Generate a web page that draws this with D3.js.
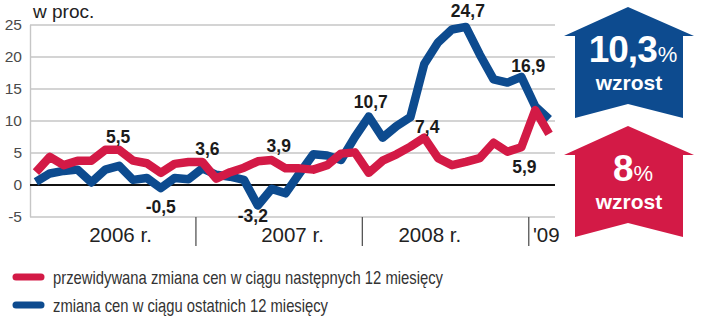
<!DOCTYPE html>
<html>
<head>
<meta charset="utf-8">
<script src="https://cdn.jsdelivr.net/npm/d3@7"></script>
<style>
  html, body { margin: 0; padding: 0; background: #fff; }
  svg { display: block; }
  text { font-family: "Liberation Sans", Arial, sans-serif; }
</style>
</head>
<body>
<svg id="chart" width="720" height="322"></svg>
<script>
// Monthly readings, January 2006 – February 2009
const months = d3.range(38).map(i => new Date(2006, i, 1));

// expected price change over the next 12 months (%)
const expected = [
  2.0, 4.4, 3.1, 3.8, 3.8, 5.5, 5.5, 3.8, 3.4, 1.9, 3.3, 3.6,
  3.6, 1.0, 2.0, 2.7, 3.7, 3.9, 2.6, 2.6, 2.4, 3.1, 4.9, 5.1,
  1.9, 3.8, 4.8, 6.0, 7.4, 4.2, 3.1, 3.6, 4.2, 6.6, 5.2, 5.9,
  11.7, 8.0
];

// perceived price change over the past 12 months (%)
const observed = [
  0.5, 1.8, 2.2, 2.4, 0.4, 2.4, 3.0, 0.8, 1.1, -0.5, 1.1, 0.9,
  2.6, 1.6, 1.3, 0.8, -3.2, -0.6, -1.3, 1.8, 4.8, 4.6, 3.9, 7.5,
  10.7, 7.4, 9.2, 10.6, 18.9, 22.3, 24.3, 24.7, 20.4, 16.5, 16.0, 16.9,
  12.3, 10.3
];

const yTicks = [25, 20, 15, 10, 5, 0, -5];
const yearLabels = ["2006 r.", "2007 r.", "2008 r.", "'09"];
const yearStarts = [0, 12, 24, 36];

const seriesNames = [
  "przewidywana zmiana cen w ciągu następnych 12 miesięcy",
  "zmiana cen w ciągu ostatnich 12 miesięcy"
];

// points carrying a value label: [series, month index]
const labelled = [
  ["expected", 6], ["observed", 9], ["expected", 12], ["observed", 16],
  ["expected", 17], ["observed", 24], ["expected", 28], ["observed", 31],
  ["observed", 35], ["expected", 35]
];

// headline figures in the arrows
const headline = { observed: "10,3", expected: "8" };

// ---- drawing ----
const RED = "#d31a46";
const BLUE = "#0d4b8f";

const svg = d3.select("#chart");
// Polish decimal comma, plain hyphen for negatives
const fmt = v => v.toFixed(1).replace(".", ",");

const x = d3.scaleBand().domain(months).range([29, 556]).padding(0);
const xc = i => x(months[i]) + x.bandwidth() / 2;
const y = d3.scaleLinear().domain([-5, 25]).range([217, 25]);

// gridlines
svg.append("g").selectAll("line").data(yTicks.filter(d => d !== 0)).join("line")
  .attr("x1", 30).attr("x2", 555)
  .attr("y1", d => y(d)).attr("y2", d => y(d))
  .attr("stroke", "#c6c6c6").attr("stroke-width", 1.4);

// left axis line
svg.append("line")
  .attr("x1", 30.5).attr("x2", 30.5).attr("y1", y(25)).attr("y2", y(-5))
  .attr("stroke", "#c6c6c6").attr("stroke-width", 1.4);

// y axis labels
const yAxis = d3.axisLeft(y).tickValues(yTicks).tickSize(0).tickPadding(8)
  .tickFormat(d => String(d));
const gy = svg.append("g").attr("transform", "translate(30,0)").call(yAxis);
gy.select(".domain").remove();
gy.selectAll("text")
  .attr("font-size", 15.5).attr("fill", "#4a4a4a")
  .style("font-family", "'Liberation Sans', Arial, sans-serif");

// zero line
svg.append("line")
  .attr("x1", 30).attr("x2", 555).attr("y1", y(0)).attr("y2", y(0))
  .attr("stroke", "#111").attr("stroke-width", 2);

// unit caption
svg.append("text").attr("x", 33).attr("y", 18)
  .attr("font-size", 19).attr("fill", "#222").text("w proc.");

// year separators
svg.append("g").selectAll("line").data(yearStarts.slice(1)).join("line")
  .attr("x1", d => x(months[d]) + 0.5).attr("x2", d => x(months[d]) + 0.5)
  .attr("y1", y(-5)).attr("y2", 246)
  .attr("stroke", "#555").attr("stroke-width", 1.3);

// year labels, centred under each year's span
const yearCentre = [6.1, 18.5, 28.4, 36.8];
svg.append("g").selectAll("text").data(yearLabels).join("text")
  .attr("x", (d, i) => 35.9 + 13.87 * yearCentre[i])
  .attr("y", 242)
  .attr("text-anchor", "middle")
  .attr("font-size", 20.5).attr("fill", "#222")
  .text(d => d);

// lines
const line = d3.line().x((d, i) => xc(i)).y(d => y(d)).curve(d3.curveLinear);
const drawSeries = (data, color) => svg.append("path")
  .datum(data)
  .attr("d", line)
  .attr("fill", "none")
  .attr("stroke", color)
  .attr("stroke-width", 8.5)
  .attr("stroke-linejoin", "round")
  .attr("stroke-linecap", "butt");
drawSeries(observed, BLUE);
drawSeries(expected, RED);

// value labels
const series = { expected, observed };
const labelOffset = [
  [-1, -7], [0, 25], [5, -7], [-5, 17], [7, -8],
  [2, -9], [3, -5], [2, -10], [7, -5], [3, 26]
];
svg.append("g").selectAll("text").data(labelled).join("text")
  .attr("x", (d, i) => xc(d[1]) + labelOffset[i][0])
  .attr("y", (d, i) => y(series[d[0]][d[1]]) + labelOffset[i][1])
  .attr("text-anchor", "middle")
  .attr("font-size", 17.5).attr("font-weight", 700).attr("fill", "#1b1b1b")
  .text(d => fmt(series[d[0]][d[1]]));

// up arrows with the latest readings
function arrowPath(top, wingY, bottom, notch) {
  const cx = 628, wl = 564, wr = 694, bl = 575, br = 683;
  return `M${cx},${top} L${wr},${wingY} L${br},${wingY} L${br},${bottom} ` +
         `L${cx},${notch} L${bl},${bottom} L${bl},${wingY} L${wl},${wingY} Z`;
}
function arrow(top, color, big) {
  const g = svg.append("g");
  g.append("path").attr("d", arrowPath(top, top + 29, top + 111, top + 97))
    .attr("fill", color);
  const t = g.append("text").attr("x", 633).attr("y", top + 55)
    .attr("text-anchor", "middle").attr("fill", "#fff");
  t.append("tspan").attr("font-size", 37).attr("font-weight", 700)
    .attr("letter-spacing", -1).text(big);
  t.append("tspan").attr("font-size", 22).attr("dx", 1).text("%");
  g.append("text").attr("x", 629).attr("y", top + 83)
    .attr("text-anchor", "middle").attr("fill", "#fff")
    .attr("font-size", 21).attr("font-weight", 700).text("wzrost");
}
arrow(7, BLUE, headline.observed);
arrow(126, RED, headline.expected);

// legend
const legend = svg.append("g");
const legendRows = [[seriesNames[0], RED, 277, 390], [seriesNames[1], BLUE, 305, 275]];
legendRows.forEach(([name, color, ly, len]) => {
  legend.append("line").attr("x1", 16).attr("x2", 41).attr("y1", ly).attr("y2", ly)
    .attr("stroke", color).attr("stroke-width", 7).attr("stroke-linecap", "round");
  legend.append("text").attr("x", 53).attr("y", ly + 6.5)
    .attr("font-size", 19).attr("fill", "#333")
    .attr("textLength", len).attr("lengthAdjust", "spacingAndGlyphs")
    .text(name);
});
</script>
</body>
</html>
